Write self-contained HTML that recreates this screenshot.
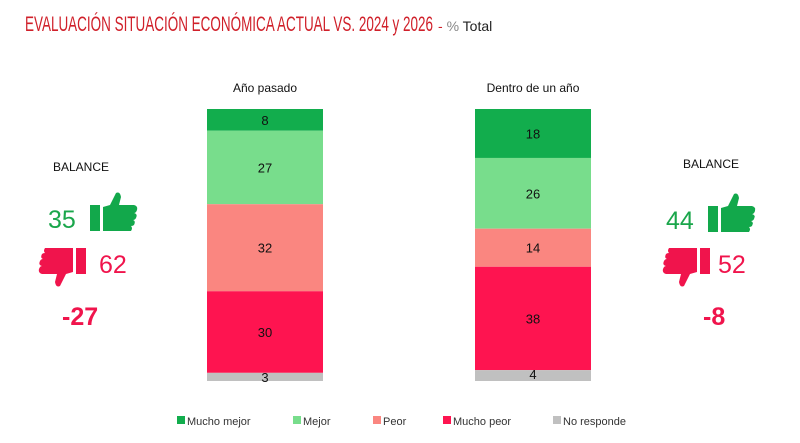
<!DOCTYPE html>
<html><head><meta charset="utf-8"><style>
body{margin:0;background:#fff;}
svg{display:block;font-family:"Liberation Sans",Arial,sans-serif;}
</style></head><body>
<svg width="800" height="443" viewBox="0 0 800 443">
<text x="25" y="31" font-size="21" fill="#d0202a" textLength="408" lengthAdjust="spacingAndGlyphs">EVALUACIÓN SITUACIÓN ECONÓMICA ACTUAL VS. 2024 y 2026</text>
<text x="438" y="31" font-size="14" fill="#222"><tspan fill="#d0202a">-</tspan> <tspan fill="#888">%</tspan> Total</text>
<g id="bars"></g>
<g id="legend"></g>

<defs>
<g id="thumbup">
<rect x="0" y="12" width="10" height="26" fill="currentColor"/>
<path d="M13 14 L20 12 L26 0 Q30 -2 31 4 L29 12 L44 12 Q48 13 47 17 Q46 20 44 20 Q48 21 46 25 Q45 27 43 27 Q46 28 44 32 Q43 33 41 33 Q43 35 41 38 L13 38 Z" fill="currentColor"/>
</g>
</defs>
<!-- left balance -->
<g>
<text x="53" y="171" font-size="12" fill="#111">BALANCE</text>
<text x="48" y="228" font-size="25" fill="#1aa64b">35</text>
<use href="#thumbup" x="90" y="193" style="color:#12a84b"/>
<use href="#thumbup" transform="translate(86,286) scale(-1,-1)" style="color:#f0144c"/>
<text x="99" y="273" font-size="25" fill="#f0144c">62</text>
<text x="62" y="325" font-size="25" font-weight="bold" fill="#f0144c">-27</text>
</g>
<!-- right balance -->
<g>
<text x="683" y="168" font-size="12" fill="#111">BALANCE</text>
<text x="666" y="229" font-size="25" fill="#1aa64b">44</text>
<use href="#thumbup" x="708" y="194" style="color:#12a84b"/>
<use href="#thumbup" transform="translate(710,286) scale(-1,-1)" style="color:#f0144c"/>
<text x="718" y="273" font-size="25" fill="#f0144c">52</text>
<text x="703" y="325" font-size="25" font-weight="bold" fill="#f0144c">-8</text>
</g>
</svg>
<script>
const categories=["Año pasado","Dentro de un año"];
const seriesNames=["Mucho mejor","Mejor","Peor","Mucho peor","No responde"];
const muchoMejor=[8,18];
const mejor=[27,26];
const peor=[32,14];
const muchoPeor=[30,38];
const noResponde=[3,4];
const colors=["#12ad4d","#78dd8c","#fa8680","#fe1450","#c0c0c0"];
const NS="http://www.w3.org/2000/svg";
const series=[muchoMejor,mejor,peor,muchoPeor,noResponde];
const top0=109,plotH=272,barW=116;
const barX=[207,475];
function y(v){return top0+v*plotH/100;}
const g=document.getElementById('bars');
categories.forEach((c,i)=>{
  const t=document.createElementNS(NS,'text');
  t.setAttribute('x',barX[i]+barW/2);t.setAttribute('y',92);t.setAttribute('font-size','12');t.setAttribute('text-anchor','middle');t.setAttribute('fill','#111');
  t.textContent=c;
  
  
  g.appendChild(t);
  let cum=0;
  series.forEach((s,k)=>{
    const v=s[i];
    const r=document.createElementNS(NS,'rect');
    r.setAttribute('x',barX[i]);r.setAttribute('y',y(cum));r.setAttribute('width',barW);r.setAttribute('height',y(cum+v)-y(cum));r.setAttribute('fill',colors[k]);
    
    
    g.appendChild(r);
    const l=document.createElementNS(NS,'text');
    l.setAttribute('x',barX[i]+barW/2);
    l.setAttribute('y',k===4?y(cum)+9:(y(cum)+y(cum+v))/2+5);
    l.setAttribute('font-size','13');l.setAttribute('text-anchor','middle');l.setAttribute('fill','#111');
    l.textContent=v;
    
    
    g.appendChild(l);
    cum+=v;
  });
});
const lg=document.getElementById('legend');
const legX=[177,293,373,443,553];
seriesNames.forEach((n,k)=>{
  const r=document.createElementNS(NS,'rect');
  r.setAttribute('x',legX[k]);r.setAttribute('y',416);r.setAttribute('width',8);r.setAttribute('height',8);r.setAttribute('fill',colors[k]);
  
  
  lg.appendChild(r);
  const t=document.createElementNS(NS,'text');
  t.setAttribute('x',legX[k]+10);t.setAttribute('y',425);t.setAttribute('font-size','11');t.setAttribute('fill','#333');
  t.textContent=n;
  
  
  lg.appendChild(t);
});
</script>
</body></html>
